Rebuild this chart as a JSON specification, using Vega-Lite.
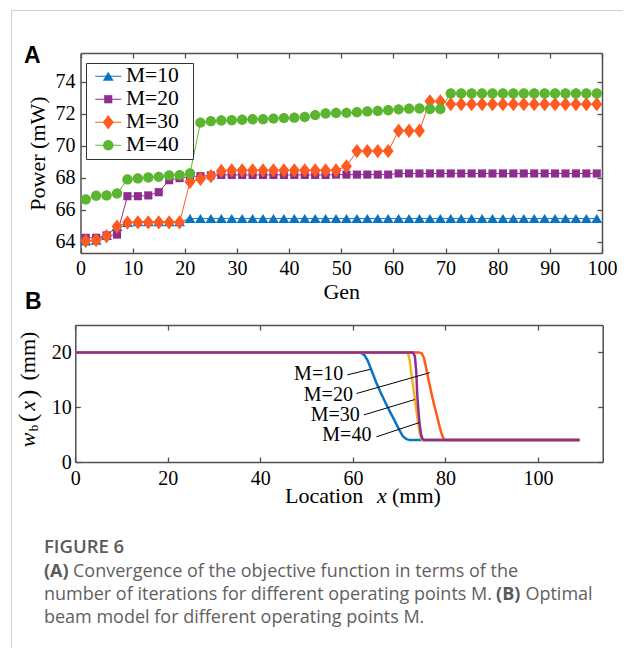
{
  "$schema": "https://vega.github.io/schema/vega-lite/v6.json",
  "autosize": {"type": "none"},
  "padding": {"left": 11, "top": 10, "right": 0, "bottom": 0},
  "width": 612,
  "height": 638,
  "background": "white",
  "config": {
    "view": {"stroke": "#cfcfcf", "strokeWidth": 1},
    "axis": {
      "grid": false,
      "labelFont": "Liberation Serif", "labelFontSize": 20, "labelColor": "#000000",
      "titleFont": "Liberation Serif", "titleFontSize": 22, "titleFontWeight": "normal", "titleColor": "#000000",
      "domainColor": "#505050", "domainWidth": 1.5, "tickColor": "#505050", "tickWidth": 1.3,
      "labelFlush": false, "labelOverlap": false
    }
  },
  "datasets": {
    "power": [
      {"gen":1,"series":"M=10","power":64.05},{"gen":3,"series":"M=10","power":64.1},{"gen":5,"series":"M=10","power":64.4},{"gen":7,"series":"M=10","power":64.95},{"gen":9,"series":"M=10","power":65.2},
      {"gen":11,"series":"M=10","power":65.25},{"gen":13,"series":"M=10","power":65.25},{"gen":15,"series":"M=10","power":65.25},{"gen":17,"series":"M=10","power":65.25},{"gen":19,"series":"M=10","power":65.25},
      {"gen":21,"series":"M=10","power":65.45},{"gen":23,"series":"M=10","power":65.45},{"gen":25,"series":"M=10","power":65.45},{"gen":27,"series":"M=10","power":65.45},{"gen":29,"series":"M=10","power":65.45},
      {"gen":31,"series":"M=10","power":65.45},{"gen":33,"series":"M=10","power":65.45},{"gen":35,"series":"M=10","power":65.45},{"gen":37,"series":"M=10","power":65.45},{"gen":39,"series":"M=10","power":65.45},
      {"gen":41,"series":"M=10","power":65.45},{"gen":43,"series":"M=10","power":65.45},{"gen":45,"series":"M=10","power":65.45},{"gen":47,"series":"M=10","power":65.45},{"gen":49,"series":"M=10","power":65.45},
      {"gen":51,"series":"M=10","power":65.45},{"gen":53,"series":"M=10","power":65.45},{"gen":55,"series":"M=10","power":65.45},{"gen":57,"series":"M=10","power":65.45},{"gen":59,"series":"M=10","power":65.45},
      {"gen":61,"series":"M=10","power":65.45},{"gen":63,"series":"M=10","power":65.45},{"gen":65,"series":"M=10","power":65.45},{"gen":67,"series":"M=10","power":65.45},{"gen":69,"series":"M=10","power":65.45},
      {"gen":71,"series":"M=10","power":65.45},{"gen":73,"series":"M=10","power":65.45},{"gen":75,"series":"M=10","power":65.45},{"gen":77,"series":"M=10","power":65.45},{"gen":79,"series":"M=10","power":65.45},
      {"gen":81,"series":"M=10","power":65.45},{"gen":83,"series":"M=10","power":65.45},{"gen":85,"series":"M=10","power":65.45},{"gen":87,"series":"M=10","power":65.45},{"gen":89,"series":"M=10","power":65.45},
      {"gen":91,"series":"M=10","power":65.45},{"gen":93,"series":"M=10","power":65.45},{"gen":95,"series":"M=10","power":65.45},{"gen":97,"series":"M=10","power":65.45},{"gen":99,"series":"M=10","power":65.45},

      {"gen":1,"series":"M=20","power":64.25},{"gen":3,"series":"M=20","power":64.25},{"gen":5,"series":"M=20","power":64.4},{"gen":7,"series":"M=20","power":64.45},{"gen":9,"series":"M=20","power":66.85},
      {"gen":11,"series":"M=20","power":66.85},{"gen":13,"series":"M=20","power":66.9},{"gen":15,"series":"M=20","power":67.1},{"gen":17,"series":"M=20","power":67.85},{"gen":19,"series":"M=20","power":67.98},
      {"gen":21,"series":"M=20","power":68.08},{"gen":23,"series":"M=20","power":68.1},{"gen":25,"series":"M=20","power":68.15},{"gen":27,"series":"M=20","power":68.18},{"gen":29,"series":"M=20","power":68.18},
      {"gen":31,"series":"M=20","power":68.18},{"gen":33,"series":"M=20","power":68.18},{"gen":35,"series":"M=20","power":68.18},{"gen":37,"series":"M=20","power":68.18},{"gen":39,"series":"M=20","power":68.18},
      {"gen":41,"series":"M=20","power":68.18},{"gen":43,"series":"M=20","power":68.18},{"gen":45,"series":"M=20","power":68.18},{"gen":47,"series":"M=20","power":68.18},{"gen":49,"series":"M=20","power":68.2},
      {"gen":51,"series":"M=20","power":68.2},{"gen":53,"series":"M=20","power":68.2},{"gen":55,"series":"M=20","power":68.2},{"gen":57,"series":"M=20","power":68.2},{"gen":59,"series":"M=20","power":68.2},
      {"gen":61,"series":"M=20","power":68.27},{"gen":63,"series":"M=20","power":68.27},{"gen":65,"series":"M=20","power":68.27},{"gen":67,"series":"M=20","power":68.27},{"gen":69,"series":"M=20","power":68.27},
      {"gen":71,"series":"M=20","power":68.27},{"gen":73,"series":"M=20","power":68.27},{"gen":75,"series":"M=20","power":68.27},{"gen":77,"series":"M=20","power":68.27},{"gen":79,"series":"M=20","power":68.27},
      {"gen":81,"series":"M=20","power":68.27},{"gen":83,"series":"M=20","power":68.27},{"gen":85,"series":"M=20","power":68.27},{"gen":87,"series":"M=20","power":68.27},{"gen":89,"series":"M=20","power":68.27},
      {"gen":91,"series":"M=20","power":68.27},{"gen":93,"series":"M=20","power":68.27},{"gen":95,"series":"M=20","power":68.27},{"gen":97,"series":"M=20","power":68.27},{"gen":99,"series":"M=20","power":68.27},

      {"gen":1,"series":"M=30","power":64.05},{"gen":3,"series":"M=30","power":64.1},{"gen":5,"series":"M=30","power":64.35},{"gen":7,"series":"M=30","power":64.95},{"gen":9,"series":"M=30","power":65.2},
      {"gen":11,"series":"M=30","power":65.22},{"gen":13,"series":"M=30","power":65.22},{"gen":15,"series":"M=30","power":65.22},{"gen":17,"series":"M=30","power":65.22},{"gen":19,"series":"M=30","power":65.22},
      {"gen":21,"series":"M=30","power":67.75},{"gen":23,"series":"M=30","power":67.93},{"gen":25,"series":"M=30","power":68.1},{"gen":27,"series":"M=30","power":68.43},{"gen":29,"series":"M=30","power":68.47},
      {"gen":31,"series":"M=30","power":68.47},{"gen":33,"series":"M=30","power":68.47},{"gen":35,"series":"M=30","power":68.47},{"gen":37,"series":"M=30","power":68.47},{"gen":39,"series":"M=30","power":68.47},
      {"gen":41,"series":"M=30","power":68.47},{"gen":43,"series":"M=30","power":68.47},{"gen":45,"series":"M=30","power":68.47},{"gen":47,"series":"M=30","power":68.47},{"gen":49,"series":"M=30","power":68.47},
      {"gen":51,"series":"M=30","power":68.72},{"gen":53,"series":"M=30","power":69.67},{"gen":55,"series":"M=30","power":69.67},{"gen":57,"series":"M=30","power":69.67},{"gen":59,"series":"M=30","power":69.67},
      {"gen":61,"series":"M=30","power":70.94},{"gen":63,"series":"M=30","power":70.94},{"gen":65,"series":"M=30","power":70.94},{"gen":67,"series":"M=30","power":72.78},{"gen":69,"series":"M=30","power":72.78},
      {"gen":71,"series":"M=30","power":72.6},{"gen":73,"series":"M=30","power":72.6},{"gen":75,"series":"M=30","power":72.6},{"gen":77,"series":"M=30","power":72.6},{"gen":79,"series":"M=30","power":72.6},
      {"gen":81,"series":"M=30","power":72.6},{"gen":83,"series":"M=30","power":72.6},{"gen":85,"series":"M=30","power":72.6},{"gen":87,"series":"M=30","power":72.6},{"gen":89,"series":"M=30","power":72.6},
      {"gen":91,"series":"M=30","power":72.6},{"gen":93,"series":"M=30","power":72.6},{"gen":95,"series":"M=30","power":72.6},{"gen":97,"series":"M=30","power":72.6},{"gen":99,"series":"M=30","power":72.6},

      {"gen":1,"series":"M=40","power":66.65},{"gen":3,"series":"M=40","power":66.88},{"gen":5,"series":"M=40","power":66.9},{"gen":7,"series":"M=40","power":67.02},{"gen":9,"series":"M=40","power":67.9},
      {"gen":11,"series":"M=40","power":67.96},{"gen":13,"series":"M=40","power":68.02},{"gen":15,"series":"M=40","power":68.06},{"gen":17,"series":"M=40","power":68.15},{"gen":19,"series":"M=40","power":68.17},
      {"gen":21,"series":"M=40","power":68.27},{"gen":23,"series":"M=40","power":71.45},{"gen":25,"series":"M=40","power":71.54},{"gen":27,"series":"M=40","power":71.58},{"gen":29,"series":"M=40","power":71.6},
      {"gen":31,"series":"M=40","power":71.63},{"gen":33,"series":"M=40","power":71.66},{"gen":35,"series":"M=40","power":71.66},{"gen":37,"series":"M=40","power":71.7},{"gen":39,"series":"M=40","power":71.73},
      {"gen":41,"series":"M=40","power":71.76},{"gen":43,"series":"M=40","power":71.8},{"gen":45,"series":"M=40","power":71.92},{"gen":47,"series":"M=40","power":72.02},{"gen":49,"series":"M=40","power":72.05},
      {"gen":51,"series":"M=40","power":72.06},{"gen":53,"series":"M=40","power":72.1},{"gen":55,"series":"M=40","power":72.15},{"gen":57,"series":"M=40","power":72.18},{"gen":59,"series":"M=40","power":72.22},
      {"gen":61,"series":"M=40","power":72.28},{"gen":63,"series":"M=40","power":72.32},{"gen":65,"series":"M=40","power":72.33},{"gen":67,"series":"M=40","power":72.3},{"gen":69,"series":"M=40","power":72.3},
      {"gen":71,"series":"M=40","power":73.27},{"gen":73,"series":"M=40","power":73.27},{"gen":75,"series":"M=40","power":73.27},{"gen":77,"series":"M=40","power":73.27},{"gen":79,"series":"M=40","power":73.27},
      {"gen":81,"series":"M=40","power":73.27},{"gen":83,"series":"M=40","power":73.27},{"gen":85,"series":"M=40","power":73.27},{"gen":87,"series":"M=40","power":73.27},{"gen":89,"series":"M=40","power":73.27},
      {"gen":91,"series":"M=40","power":73.27},{"gen":93,"series":"M=40","power":73.27},{"gen":95,"series":"M=40","power":73.27},{"gen":97,"series":"M=40","power":73.27},{"gen":99,"series":"M=40","power":73.27}
    ],
    "beam": [
      {"curve":"M=10","x":0,"w":20},{"curve":"M=10","x":61,"w":20},{"curve":"M=10","x":61.8,"w":19.9},{"curve":"M=10","x":62.5,"w":19.5},{"curve":"M=10","x":63.2,"w":18.5},
      {"curve":"M=10","x":64,"w":16.8},{"curve":"M=10","x":65,"w":14.6},{"curve":"M=10","x":66,"w":12.7},{"curve":"M=10","x":67,"w":10.9},{"curve":"M=10","x":68,"w":9.2},
      {"curve":"M=10","x":69,"w":7.6},{"curve":"M=10","x":70,"w":5.9},{"curve":"M=10","x":70.8,"w":4.7},{"curve":"M=10","x":71.5,"w":4.2},{"curve":"M=10","x":72.3,"w":4.0},{"curve":"M=10","x":109,"w":4.0},
      {"curve":"M=20","x":0,"w":20},{"curve":"M=20","x":74.3,"w":20},{"curve":"M=20","x":74.9,"w":19.8},{"curve":"M=20","x":75.4,"w":18.9},{"curve":"M=20","x":75.9,"w":16.9},
      {"curve":"M=20","x":76.5,"w":14.4},{"curve":"M=20","x":77.1,"w":12.1},{"curve":"M=20","x":77.7,"w":10.0},{"curve":"M=20","x":78.3,"w":8.0},{"curve":"M=20","x":78.8,"w":6.3},
      {"curve":"M=20","x":79.2,"w":5.1},{"curve":"M=20","x":79.6,"w":4.3},{"curve":"M=20","x":80,"w":4.0},{"curve":"M=20","x":109,"w":4.0},
      {"curve":"M=30","x":0,"w":20},{"curve":"M=30","x":71.6,"w":20},{"curve":"M=30","x":72.0,"w":19.6},{"curve":"M=30","x":72.3,"w":18.4},{"curve":"M=30","x":72.6,"w":16.4},
      {"curve":"M=30","x":73.0,"w":13.9},{"curve":"M=30","x":73.4,"w":11.5},{"curve":"M=30","x":73.8,"w":9.0},{"curve":"M=30","x":74.1,"w":7.1},{"curve":"M=30","x":74.4,"w":5.5},
      {"curve":"M=30","x":74.7,"w":4.4},{"curve":"M=30","x":75.0,"w":4.0},{"curve":"M=30","x":109,"w":4.0},
      {"curve":"M=40","x":0,"w":20},{"curve":"M=40","x":73.0,"w":20},{"curve":"M=40","x":73.4,"w":19.3},{"curve":"M=40","x":73.7,"w":16.5},{"curve":"M=40","x":73.9,"w":12.5},
      {"curve":"M=40","x":74.15,"w":9.5},{"curve":"M=40","x":74.4,"w":7.1},{"curve":"M=40","x":74.7,"w":5.2},{"curve":"M=40","x":75.0,"w":4.3},{"curve":"M=40","x":75.4,"w":4.0},{"curve":"M=40","x":109,"w":4.0}
    ],
    "leaders": [
      {"curve":"M=10","tx":57.9,"ty":14.96,"x1":58.8,"y1":15.9,"x2":63.7,"y2":16.9},
      {"curve":"M=20","tx":60.0,"ty":11.19,"x1":60.8,"y1":12.5,"x2":76.6,"y2":16.3},
      {"curve":"M=30","tx":61.5,"ty":7.54,"x1":62.4,"y1":8.6,"x2":73.4,"y2":11.4},
      {"curve":"M=40","tx":64.0,"ty":3.89,"x1":65.1,"y1":4.6,"x2":74.4,"y2":7.2}
    ]
  },
  "layer": [
    {
      "layer": [
        {
          "data": {"name": "power"},
          "mark": {"type": "line", "strokeWidth": 1},
          "encoding": {
            "x": {"field": "gen", "type": "quantitative",
                  "scale": {"domain": [0, 100], "range": [69.5, 591], "nice": false, "zero": false},
                  "axis": {"orient": "bottom", "offset": -395, "values": [0,10,20,30,40,50,60,70,80,90,100], "tickSize": -5, "labelPadding": 10, "title": "Gen", "titlePadding": 3}},
            "y": {"field": "power", "type": "quantitative",
                  "scale": {"domain": [63.3, 75.8], "range": [243, 43], "nice": false, "zero": false},
                  "axis": {"orient": "left", "offset": -69.5, "values": [64,66,68,70,72,74], "tickSize": -5, "labelPadding": 10.5, "title": "Power (mW)", "titlePadding": 6}},
            "color": {"field": "series", "type": "nominal",
                      "scale": {"domain": ["M=10","M=20","M=30","M=40"], "range": ["#0A72C2","#8E2D8F","#FF5A1F","#5CB531"]},
                      "legend": {
                        "orient": "none", "legendX": 75, "legendY": 53, "zindex": 0,
                        "title": ".", "titleOrient": "right", "titleColor": "transparent", "titleFontSize": 2, "titlePadding": 11,
                        "fillColor": "white", "strokeColor": "#333333", "padding": 2.5,
                        "labelFont": "Liberation Serif", "labelFontSize": 21.5, "labelColor": "#000000", "labelLimit": 200,
                        "symbolType": "M-1.86,0H1.86", "symbolSize": 196, "symbolStrokeWidth": 1,
                        "symbolOffset": 9, "labelOffset": 7, "rowPadding": 0
                      }}
          }
        },
        {
          "data": {"name": "power"},
          "mark": {"type": "point", "filled": true, "opacity": 1, "size": 196, "strokeWidth": 0},
          "encoding": {
            "x": {"field": "gen", "type": "quantitative",
                  "scale": {"domain": [0, 100], "range": [69.5, 591], "nice": false, "zero": false},
                  "axis": {"orient": "top", "offset": -43, "values": [0,10,20,30,40,50,60,70,80,90,100], "tickSize": -5, "labels": false, "title": null}},
            "y": {"field": "power", "type": "quantitative",
                  "scale": {"domain": [63.3, 75.8], "range": [243, 43], "nice": false, "zero": false},
                  "axis": {"orient": "right", "offset": -21, "values": [64,66,68,70,72,74], "tickSize": -5, "labels": false, "title": null}},
            "color": {"field": "series", "type": "nominal",
                      "scale": {"domain": ["M=10","M=20","M=30","M=40"], "range": ["#0A72C2","#8E2D8F","#FF5A1F","#5CB531"]},
                      "legend": {
                        "orient": "none", "legendX": 75, "legendY": 53, "title": null, "zindex": 1,
                        "fillColor": "transparent", "strokeColor": "transparent", "padding": 2.5,
                        "labelFont": "Liberation Serif", "labelFontSize": 21.5, "labelColor": "transparent", "labelLimit": 200,
                        "symbolSize": 196, "symbolStrokeWidth": 1, "symbolStrokeColor": "transparent", "symbolOpacity": 1,
                        "symbolOffset": 9, "labelOffset": 7, "rowPadding": 0
                      }},
            "shape": {"field": "series", "type": "nominal",
                      "scale": {"domain": ["M=10","M=20","M=30","M=40"], "range": ["M0,-0.64L0.78,0.64L-0.78,0.64Z","M-0.58,-0.58H0.58V0.58H-0.58Z","M0,-1.02L0.78,0L0,1.02L-0.78,0Z","M-0.74,0A0.74,0.74,0,1,1,0.74,0A0.74,0.74,0,1,1,-0.74,0Z"]},
                      "legend": null}
          }
        },
        {
          "data": {"values": [{}]},
          "mark": {"type": "text", "text": "A", "font": "Liberation Sans", "fontWeight": "bold", "fontSize": 23, "align": "left", "baseline": "alphabetic", "color": "#000000"},
          "encoding": {
            "x": {"datum": -10.83, "type": "quantitative", "scale": {"domain": [0, 100], "range": [69.5, 591], "nice": false, "zero": false}, "axis": null},
            "y": {"datum": 75.18, "type": "quantitative", "scale": {"domain": [63.3, 75.8], "range": [243, 43], "nice": false, "zero": false}, "axis": null}
          }
        }
      ],
      "resolve": {"axis": {"x": "independent", "y": "independent"}, "legend": {"color": "independent", "shape": "independent"}}
    },
    {
      "layer": [
        {
          "data": {"name": "beam"},
          "mark": {"type": "line", "strokeWidth": 2.5},
          "encoding": {
            "x": {"field": "x", "type": "quantitative",
                  "scale": {"domain": [0, 114], "range": [64.3, 591.7], "nice": false, "zero": false},
                  "axis": {"orient": "bottom", "offset": -186, "values": [0,20,40,60,80,100], "tickSize": -5, "labelPadding": 11, "title": null}},
            "y": {"field": "w", "type": "quantitative",
                  "scale": {"domain": [0, 25], "range": [452, 315], "nice": false, "zero": false},
                  "axis": {"orient": "left", "offset": -64.3, "values": [0,10,20], "tickSize": -5, "labelPadding": 9, "title": null}},
            "color": {"field": "curve", "type": "nominal",
                      "scale": {"domain": ["M=10","M=20","M=30","M=40"], "range": ["#0A74C4","#FF5A1A","#F5B21E","#8E2D94"]},
                      "legend": null}
          }
        },
        {
          "data": {"name": "leaders"},
          "mark": {"type": "rule", "strokeWidth": 1, "color": "#000000"},
          "encoding": {
            "x": {"field": "x1", "type": "quantitative",
                  "scale": {"domain": [0, 114], "range": [64.3, 591.7], "nice": false, "zero": false},
                  "axis": {"orient": "top", "offset": -315, "values": [0,20,40,60,80,100], "tickSize": -5, "labels": false, "title": null}},
            "y": {"field": "y1", "type": "quantitative",
                  "scale": {"domain": [0, 25], "range": [452, 315], "nice": false, "zero": false},
                  "axis": {"orient": "right", "offset": -20.3, "values": [0,10,20], "tickSize": -5, "labels": false, "title": null}},
            "x2": {"field": "x2"},
            "y2": {"field": "y2"}
          }
        },
        {
          "data": {"name": "leaders"},
          "mark": {"type": "text", "font": "Liberation Serif", "fontSize": 20, "align": "right", "baseline": "alphabetic", "color": "#000000"},
          "encoding": {
            "x": {"field": "tx", "type": "quantitative", "scale": {"domain": [0, 114], "range": [64.3, 591.7], "nice": false, "zero": false}, "axis": null},
            "y": {"field": "ty", "type": "quantitative", "scale": {"domain": [0, 25], "range": [452, 315], "nice": false, "zero": false}, "axis": null},
            "text": {"field": "curve"}
          }
        },
        {
          "data": {"values": [{}]},
          "mark": {"type": "text", "text": "B", "font": "Liberation Sans", "fontWeight": "bold", "fontSize": 23, "align": "left", "baseline": "alphabetic", "color": "#000000"},
          "encoding": {
            "x": {"datum": -10.87, "type": "quantitative", "scale": {"domain": [0, 114], "range": [64.3, 591.7], "nice": false, "zero": false}, "axis": null},
            "y": {"datum": 27.92, "type": "quantitative", "scale": {"domain": [0, 25], "range": [452, 315], "nice": false, "zero": false}, "axis": null}
          }
        },
        {
          "data": {"values": [{}]},
          "mark": {"type": "text", "text": "Location", "font": "Liberation Serif", "fontSize": 22, "align": "left", "baseline": "alphabetic", "color": "#000000"},
          "encoding": {
            "x": {"datum": 45.33, "type": "quantitative", "scale": {"domain": [0, 114], "range": [64.3, 591.7], "nice": false, "zero": false}, "axis": null},
            "y": {"datum": -7.45, "type": "quantitative", "scale": {"domain": [0, 25], "range": [452, 315], "nice": false, "zero": false}, "axis": null}
          }
        },
        {
          "data": {"values": [{}]},
          "mark": {"type": "text", "text": "x", "font": "Liberation Serif", "fontStyle": "italic", "fontSize": 22, "align": "left", "baseline": "alphabetic", "color": "#000000"},
          "encoding": {
            "x": {"datum": 65.2, "type": "quantitative", "scale": {"domain": [0, 114], "range": [64.3, 591.7], "nice": false, "zero": false}, "axis": null},
            "y": {"datum": -7.45, "type": "quantitative", "scale": {"domain": [0, 25], "range": [452, 315], "nice": false, "zero": false}, "axis": null}
          }
        },
        {
          "data": {"values": [{}]},
          "mark": {"type": "text", "text": "(mm)", "font": "Liberation Serif", "fontSize": 22, "align": "left", "baseline": "alphabetic", "color": "#000000"},
          "encoding": {
            "x": {"datum": 68.46, "type": "quantitative", "scale": {"domain": [0, 114], "range": [64.3, 591.7], "nice": false, "zero": false}, "axis": null},
            "y": {"datum": -7.45, "type": "quantitative", "scale": {"domain": [0, 25], "range": [452, 315], "nice": false, "zero": false}, "axis": null}
          }
        },
        {
          "data": {"values": [{}]},
          "mark": {"type": "text", "text": "w", "font": "Liberation Serif", "fontStyle": "italic", "fontSize": 22, "align": "center", "baseline": "middle", "angle": 270, "color": "#000000"},
          "encoding": {
            "x": {"datum": -10.22, "type": "quantitative", "scale": {"domain": [0, 114], "range": [64.3, 591.7], "nice": false, "zero": false}, "axis": null},
            "y": {"datum": 4.01, "type": "quantitative", "scale": {"domain": [0, 25], "range": [452, 315], "nice": false, "zero": false}, "axis": null}
          }
        },
        {
          "data": {"values": [{}]},
          "mark": {"type": "text", "text": "b", "font": "Liberation Serif", "fontSize": 13, "align": "center", "baseline": "middle", "angle": 270, "color": "#000000"},
          "encoding": {
            "x": {"datum": -8.82, "type": "quantitative", "scale": {"domain": [0, 114], "range": [64.3, 591.7], "nice": false, "zero": false}, "axis": null},
            "y": {"datum": 6.2, "type": "quantitative", "scale": {"domain": [0, 25], "range": [452, 315], "nice": false, "zero": false}, "axis": null}
          }
        },
        {
          "data": {"values": [{}]},
          "mark": {"type": "text", "text": "(", "font": "Liberation Serif", "fontSize": 26, "align": "center", "baseline": "middle", "angle": 270, "color": "#000000"},
          "encoding": {
            "x": {"datum": -10.22, "type": "quantitative", "scale": {"domain": [0, 114], "range": [64.3, 591.7], "nice": false, "zero": false}, "axis": null},
            "y": {"datum": 8.03, "type": "quantitative", "scale": {"domain": [0, 25], "range": [452, 315], "nice": false, "zero": false}, "axis": null}
          }
        },
        {
          "data": {"values": [{}]},
          "mark": {"type": "text", "text": "x", "font": "Liberation Serif", "fontStyle": "italic", "fontSize": 22, "align": "center", "baseline": "middle", "angle": 270, "color": "#000000"},
          "encoding": {
            "x": {"datum": -10.22, "type": "quantitative", "scale": {"domain": [0, 114], "range": [64.3, 591.7], "nice": false, "zero": false}, "axis": null},
            "y": {"datum": 10.22, "type": "quantitative", "scale": {"domain": [0, 25], "range": [452, 315], "nice": false, "zero": false}, "axis": null}
          }
        },
        {
          "data": {"values": [{}]},
          "mark": {"type": "text", "text": ")", "font": "Liberation Serif", "fontSize": 26, "align": "center", "baseline": "middle", "angle": 270, "color": "#000000"},
          "encoding": {
            "x": {"datum": -10.22, "type": "quantitative", "scale": {"domain": [0, 114], "range": [64.3, 591.7], "nice": false, "zero": false}, "axis": null},
            "y": {"datum": 12.41, "type": "quantitative", "scale": {"domain": [0, 25], "range": [452, 315], "nice": false, "zero": false}, "axis": null}
          }
        },
        {
          "data": {"values": [{}]},
          "mark": {"type": "text", "text": "(mm)", "font": "Liberation Serif", "fontSize": 22, "align": "center", "baseline": "middle", "angle": 270, "color": "#000000"},
          "encoding": {
            "x": {"datum": -10.22, "type": "quantitative", "scale": {"domain": [0, 114], "range": [64.3, 591.7], "nice": false, "zero": false}, "axis": null},
            "y": {"datum": 19.34, "type": "quantitative", "scale": {"domain": [0, 25], "range": [452, 315], "nice": false, "zero": false}, "axis": null}
          }
        },
        {
          "data": {"values": [{}]},
          "mark": {"type": "text", "text": "FIGURE 6", "font": "Open Sans", "fontWeight": 600, "fontSize": 18.5, "align": "left", "baseline": "alphabetic", "color": "#5a5a5a"},
          "encoding": {
            "x": {"datum": -6.77, "type": "quantitative", "scale": {"domain": [0, 114], "range": [64.3, 591.7], "nice": false, "zero": false}, "axis": null},
            "y": {"datum": -16.6, "type": "quantitative", "scale": {"domain": [0, 25], "range": [452, 315], "nice": false, "zero": false}, "axis": null}
          }
        },
        {
          "data": {"values": [{}]},
          "mark": {"type": "text", "text": "(A)", "font": "Open Sans", "fontWeight": "bold", "fontSize": 18, "align": "left", "baseline": "alphabetic", "color": "#5a5a5a"},
          "encoding": {
            "x": {"datum": -6.77, "type": "quantitative", "scale": {"domain": [0, 114], "range": [64.3, 591.7], "nice": false, "zero": false}, "axis": null},
            "y": {"datum": -20.93, "type": "quantitative", "scale": {"domain": [0, 25], "range": [452, 315], "nice": false, "zero": false}, "axis": null}
          }
        },
        {
          "data": {"values": [{}]},
          "mark": {"type": "text", "text": "Convergence of the objective function in terms of the", "font": "Open Sans", "fontSize": 18, "align": "left", "baseline": "alphabetic", "color": "#5f5f5f"},
          "encoding": {
            "x": {"datum": -0.5, "type": "quantitative", "scale": {"domain": [0, 114], "range": [64.3, 591.7], "nice": false, "zero": false}, "axis": null},
            "y": {"datum": -20.93, "type": "quantitative", "scale": {"domain": [0, 25], "range": [452, 315], "nice": false, "zero": false}, "axis": null}
          }
        },
        {
          "data": {"values": [{}]},
          "mark": {"type": "text", "text": "number of iterations for different operating points M.", "font": "Open Sans", "fontSize": 18, "align": "left", "baseline": "alphabetic", "color": "#5f5f5f"},
          "encoding": {
            "x": {"datum": -6.77, "type": "quantitative", "scale": {"domain": [0, 114], "range": [64.3, 591.7], "nice": false, "zero": false}, "axis": null},
            "y": {"datum": -25.18, "type": "quantitative", "scale": {"domain": [0, 25], "range": [452, 315], "nice": false, "zero": false}, "axis": null}
          }
        },
        {
          "data": {"values": [{}]},
          "mark": {"type": "text", "text": "(B)", "font": "Open Sans", "fontWeight": "bold", "fontSize": 18, "align": "left", "baseline": "alphabetic", "color": "#5a5a5a"},
          "encoding": {
            "x": {"datum": 90.95, "type": "quantitative", "scale": {"domain": [0, 114], "range": [64.3, 591.7], "nice": false, "zero": false}, "axis": null},
            "y": {"datum": -25.18, "type": "quantitative", "scale": {"domain": [0, 25], "range": [452, 315], "nice": false, "zero": false}, "axis": null}
          }
        },
        {
          "data": {"values": [{}]},
          "mark": {"type": "text", "text": "Optimal", "font": "Open Sans", "fontSize": 18, "align": "left", "baseline": "alphabetic", "color": "#5f5f5f"},
          "encoding": {
            "x": {"datum": 97.3, "type": "quantitative", "scale": {"domain": [0, 114], "range": [64.3, 591.7], "nice": false, "zero": false}, "axis": null},
            "y": {"datum": -25.18, "type": "quantitative", "scale": {"domain": [0, 25], "range": [452, 315], "nice": false, "zero": false}, "axis": null}
          }
        },
        {
          "data": {"values": [{}]},
          "mark": {"type": "text", "text": "beam model for different operating points M.", "font": "Open Sans", "fontSize": 18, "align": "left", "baseline": "alphabetic", "color": "#5f5f5f"},
          "encoding": {
            "x": {"datum": -6.77, "type": "quantitative", "scale": {"domain": [0, 114], "range": [64.3, 591.7], "nice": false, "zero": false}, "axis": null},
            "y": {"datum": -29.33, "type": "quantitative", "scale": {"domain": [0, 25], "range": [452, 315], "nice": false, "zero": false}, "axis": null}
          }
        }
      ],
      "resolve": {"axis": {"x": "independent", "y": "independent"}}
    }
  ],
  "resolve": {
    "scale": {"x": "independent", "y": "independent", "color": "independent", "shape": "independent"},
    "axis": {"x": "independent", "y": "independent"}
  }
}
